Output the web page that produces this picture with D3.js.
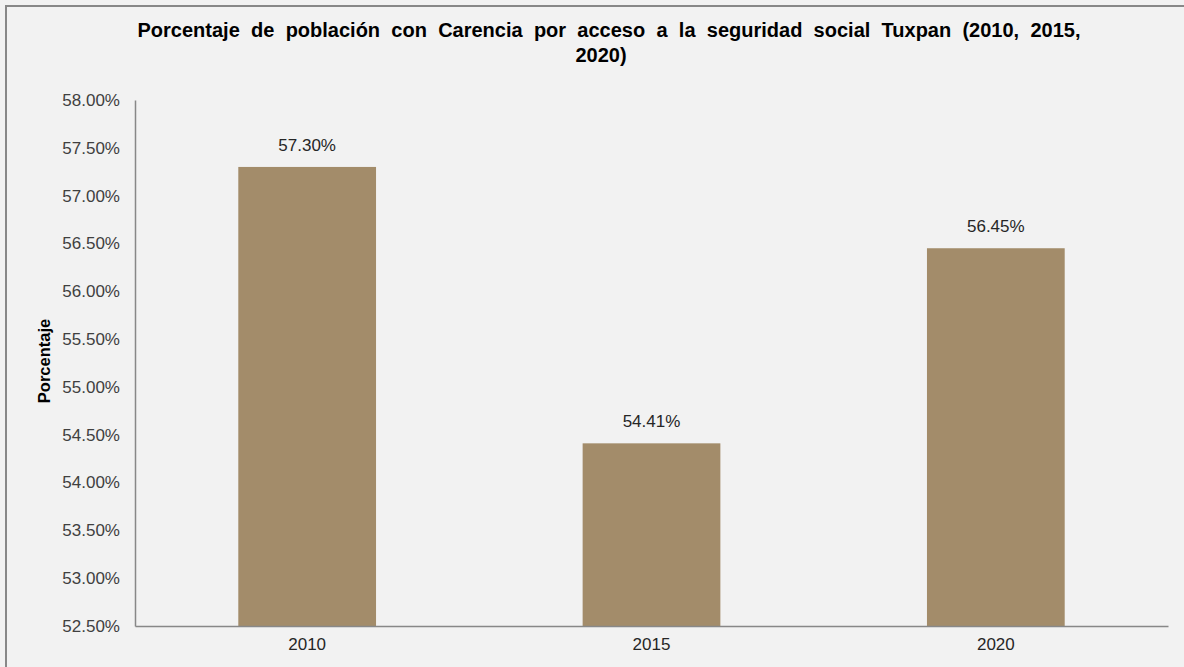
<!DOCTYPE html>
<html>
<head>
<meta charset="utf-8">
<script src="https://cdn.jsdelivr.net/npm/d3@7"></script>
<style>
  body { margin: 0; background: #f2f2f2; }
  svg { display: block; font-family: "Liberation Sans", Arial, sans-serif; }
</style>
</head>
<body>
<svg width="1184" height="667"></svg>
<script>
const years = ['2010', '2015', '2020'];
const values = [57.30, 54.41, 56.45];
const yTicks = [52.5, 53, 53.5, 54, 54.5, 55, 55.5, 56, 56.5, 57, 57.5, 58];
const titleLines = [
  'Porcentaje de población con Carencia por acceso a la seguridad social Tuxpan (2010, 2015,',
  '2020)'
];

const svg = d3.select('svg');
const width = +svg.attr('width');
const height = +svg.attr('height');

const margin = {top: 100, right: 16, bottom: 41, left: 135};

// chart area background + border
svg.append('rect')
  .attr('x', 6).attr('y', 6)
  .attr('width', width + 20).attr('height', height + 20)
  .attr('fill', '#f2f2f2')
  .attr('stroke', '#888')
  .attr('stroke-width', 2);

const x = d3.scaleBand()
  .domain(years)
  .range([margin.left, width - margin.right])
  .paddingInner(0.6)
  .paddingOuter(0.3);

const y = d3.scaleLinear()
  .domain([52.5, 58])
  .range([height - margin.bottom, margin.top]);

// title
svg.append('text')
  .attr('text-anchor', 'middle')
  .attr('font-weight', 'bold')
  .attr('font-size', 20)
  .attr('word-spacing', 5.7)
  .attr('fill', '#000')
  .selectAll('tspan')
  .data(titleLines)
  .join('tspan')
  .attr('x', (d, i) => i === 0 ? 609 : 601)
  .attr('y', (d, i) => 37 + i * 25)
  .text(d => d);

// bars
svg.append('g')
  .selectAll('rect')
  .data(values)
  .join('rect')
  .attr('x', (d, i) => x(years[i]))
  .attr('y', d => y(d))
  .attr('width', x.bandwidth())
  .attr('height', d => y(52.5) - y(d))
  .attr('fill', '#a38c6a');

// value labels
svg.append('g')
  .selectAll('text')
  .data(values)
  .join('text')
  .attr('x', (d, i) => x(years[i]) + x.bandwidth() / 2)
  .attr('y', d => y(d) - 16)
  .attr('text-anchor', 'middle')
  .attr('font-size', 17)
  .attr('fill', '#262626')
  .text(d => d.toFixed(2) + '%');

// y axis
const yAxis = svg.append('g')
  .attr('transform', `translate(${margin.left},0)`)
  .call(d3.axisLeft(y).tickValues(yTicks).tickSize(0).tickPadding(15)
    .tickFormat(d => d.toFixed(2) + '%'));
yAxis.select('.domain').attr('stroke', '#888').attr('stroke-width', 1.5);
yAxis.selectAll('text')
  .attr('font-size', 17)
  .attr('fill', '#404040')
  .attr('font-family', '"Liberation Sans", Arial, sans-serif');

// x axis
const xAxis = svg.append('g')
  .attr('transform', `translate(0,${height - margin.bottom})`)
  .call(d3.axisBottom(x).tickSize(0).tickPadding(12));
xAxis.select('.domain').attr('stroke', '#888').attr('stroke-width', 1.5);
xAxis.selectAll('text')
  .attr('font-size', 17)
  .attr('fill', '#262626')
  .attr('font-family', '"Liberation Sans", Arial, sans-serif');

// y axis title
svg.append('text')
  .attr('transform', `translate(50,${(margin.top + height - margin.bottom) / 2 - 2}) rotate(-90)`)
  .attr('text-anchor', 'middle')
  .attr('font-weight', 'bold')
  .attr('font-size', 16.5)
  .attr('fill', '#000')
  .text('Porcentaje');
</script>
</body>
</html>
